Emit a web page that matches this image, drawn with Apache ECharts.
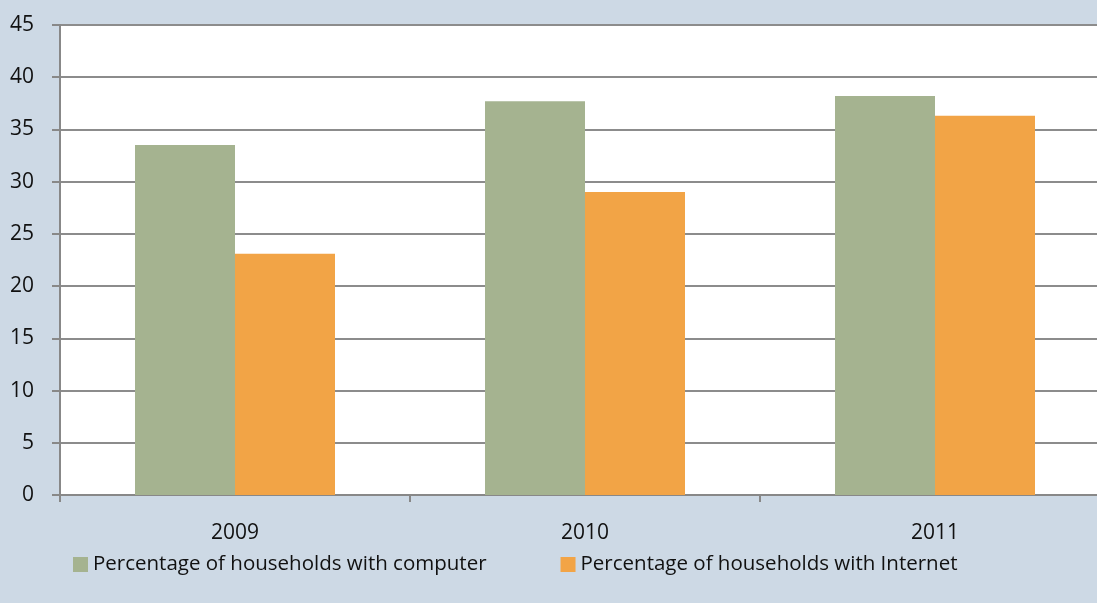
<!DOCTYPE html>
<html><head><meta charset="utf-8">
<script src="https://cdn.jsdelivr.net/npm/echarts@6/dist/echarts.min.js"></script>
<style>html,body{margin:0;padding:0;background:#cdd9e5;}#c{width:1097px;height:603px;}</style>
</head><body><div id="c"></div>
<script>
const categories = ['2009', '2010', '2011'];
const computerValues = [33.5, 37.7, 38.2];
const internetValues = [23.1, 29.0, 36.3];
const seriesNames = ['Percentage of households with computer', 'Percentage of households with Internet'];

const chart = echarts.init(document.getElementById('c'));
const font = '"Open Sans", "DejaVu Sans", sans-serif';
chart.setOption({
  backgroundColor: '#cdd9e5',
  animation: false,
  grid: { left: 60, top: 25, right: -13, bottom: 108, outerBoundsMode: 'none', containLabel: false, backgroundColor: '#ffffff', show: true, borderWidth: 0 },
  legend: {
    top: 549, left: 68, itemGap: 74, itemWidth: 15, itemHeight: 15, icon: 'rect',
    textStyle: { fontFamily: font, fontSize: 20.5, color: '#111' },
    data: seriesNames
  },
  xAxis: {
    type: 'category', data: categories,
    axisLine: { lineStyle: { color: '#888', width: 2 } },
    axisTick: { show: true, length: 7, lineStyle: { color: '#888', width: 2 } },
    axisLabel: { fontFamily: font, fontSize: 21, color: '#111', margin: 28 }
  },
  yAxis: {
    type: 'value', min: 0, max: 45, interval: 5,
    axisLine: { show: true, lineStyle: { color: '#888', width: 2 } },
    axisTick: { show: true, length: 8, lineStyle: { color: '#888', width: 2 } },
    splitLine: { lineStyle: { color: '#8c8c8c', width: 2 } },
    axisLabel: { fontFamily: font, fontSize: 21, color: '#111', margin: 26 }
  },
  series: [
    { name: seriesNames[0], type: 'bar', data: computerValues, barWidth: 100, barGap: '0%', itemStyle: { color: '#a5b390' } },
    { name: seriesNames[1], type: 'bar', data: internetValues, barWidth: 100, itemStyle: { color: '#f2a446' } }
  ]
});
</script></body></html>
